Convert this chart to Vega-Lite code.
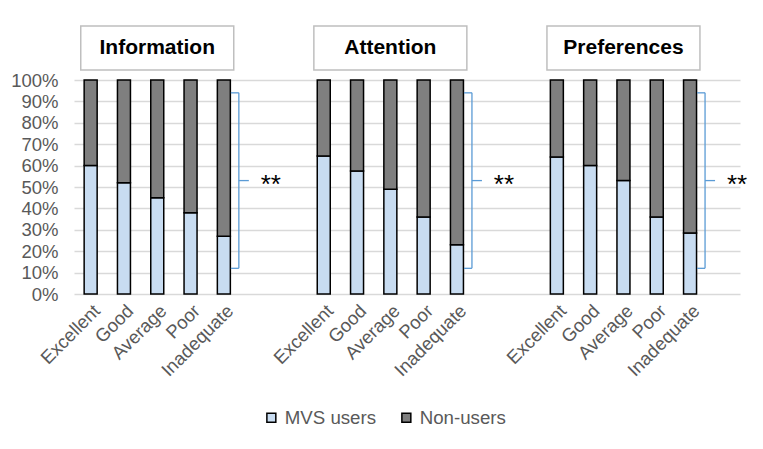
{
  "$schema": "https://vega.github.io/schema/vega-lite/v6.json",
  "autosize": "none",
  "width": 666,
  "height": 214,
  "padding": {"left": 74, "top": 80, "right": 23, "bottom": 155},
  "background": "white",
  "config": {
    "view": {"stroke": null},
    "font": "Liberation Sans",
    "axis": {"labelFont": "Liberation Sans", "labelColor": "#595959", "labelFontSize": 18.5, "labelOverlap": false, "ticks": false, "domain": false, "titleOpacity": 0},
    "axisY": {"tickCount": 10, "gridColor": "#d9d9d9", "gridWidth": 1.5, "labelPadding": 16, "labelExpr": "datum.value + '%'"},
    "axisX": {"grid": false, "labelAngle": -45, "labelPadding": 7, "labelExpr": "indexof(datum.value, '|') > 0 ? substring(datum.value, indexof(datum.value, '|') + 1) : ''"}
  },
  "datasets": {
    "shares": [
      {"group": "Information", "rating": "Excellent", "series": "MVS users", "pct": 60},
      {"group": "Information", "rating": "Excellent", "series": "Non-users", "pct": 40},
      {"group": "Information", "rating": "Good", "series": "MVS users", "pct": 52},
      {"group": "Information", "rating": "Good", "series": "Non-users", "pct": 48},
      {"group": "Information", "rating": "Average", "series": "MVS users", "pct": 45},
      {"group": "Information", "rating": "Average", "series": "Non-users", "pct": 55},
      {"group": "Information", "rating": "Poor", "series": "MVS users", "pct": 38},
      {"group": "Information", "rating": "Poor", "series": "Non-users", "pct": 62},
      {"group": "Information", "rating": "Inadequate", "series": "MVS users", "pct": 27},
      {"group": "Information", "rating": "Inadequate", "series": "Non-users", "pct": 73},
      {"group": "Attention", "rating": "Excellent", "series": "MVS users", "pct": 64.5},
      {"group": "Attention", "rating": "Excellent", "series": "Non-users", "pct": 35.5},
      {"group": "Attention", "rating": "Good", "series": "MVS users", "pct": 57.5},
      {"group": "Attention", "rating": "Good", "series": "Non-users", "pct": 42.5},
      {"group": "Attention", "rating": "Average", "series": "MVS users", "pct": 49},
      {"group": "Attention", "rating": "Average", "series": "Non-users", "pct": 51},
      {"group": "Attention", "rating": "Poor", "series": "MVS users", "pct": 36},
      {"group": "Attention", "rating": "Poor", "series": "Non-users", "pct": 64},
      {"group": "Attention", "rating": "Inadequate", "series": "MVS users", "pct": 23},
      {"group": "Attention", "rating": "Inadequate", "series": "Non-users", "pct": 77},
      {"group": "Preferences", "rating": "Excellent", "series": "MVS users", "pct": 64},
      {"group": "Preferences", "rating": "Excellent", "series": "Non-users", "pct": 36},
      {"group": "Preferences", "rating": "Good", "series": "MVS users", "pct": 60},
      {"group": "Preferences", "rating": "Good", "series": "Non-users", "pct": 40},
      {"group": "Preferences", "rating": "Average", "series": "MVS users", "pct": 53},
      {"group": "Preferences", "rating": "Average", "series": "Non-users", "pct": 47},
      {"group": "Preferences", "rating": "Poor", "series": "MVS users", "pct": 36},
      {"group": "Preferences", "rating": "Poor", "series": "Non-users", "pct": 64},
      {"group": "Preferences", "rating": "Inadequate", "series": "MVS users", "pct": 28.5},
      {"group": "Preferences", "rating": "Inadequate", "series": "Non-users", "pct": 71.5}
    ],
    "tests": [
      {"group": "Information", "rating": "Inadequate", "low": 12, "high": 94, "mid": 53, "label": "**"},
      {"group": "Attention", "rating": "Inadequate", "low": 12, "high": 94, "mid": 53, "label": "**"},
      {"group": "Preferences", "rating": "Inadequate", "low": 12, "high": 94, "mid": 53, "label": "**"}
    ],
    "panels": [
      {"group": "Information", "rating": "Average"},
      {"group": "Attention", "rating": "Average"},
      {"group": "Preferences", "rating": "Average"}
    ]
  },
  "resolve": {"scale": {"x": "shared", "y": "shared"}},
  "layer": [
    {
      "data": {"name": "shares"},
      "transform": [{"calculate": "datum.group + '|' + datum.rating", "as": "slot"}],
      "mark": {"type": "bar", "width": 13, "stroke": "#000000", "strokeWidth": 1.5},
      "encoding": {
        "x": {
          "field": "slot", "type": "nominal", "title": null,
          "scale": {
            "domain": [
              "Information|Excellent", "Information|Good", "Information|Average", "Information|Poor", "Information|Inadequate",
              "gap1", "gap2",
              "Attention|Excellent", "Attention|Good", "Attention|Average", "Attention|Poor", "Attention|Inadequate",
              "gap3", "gap4",
              "Preferences|Excellent", "Preferences|Good", "Preferences|Average", "Preferences|Poor", "Preferences|Inadequate",
              "gap5"
            ],
            "paddingInner": 0.58, "paddingOuter": 0.29
          }
        },
        "y": {
          "field": "pct", "type": "quantitative", "stack": "zero", "title": null,
          "scale": {"domain": [0, 100], "nice": false}
        },
        "color": {
          "field": "series", "type": "nominal",
          "scale": {"domain": ["MVS users", "Non-users"], "range": ["#c8dcf1", "#7f7f7f"]},
          "legend": {
            "title": null, "orient": "none", "direction": "horizontal",
            "legendX": 188, "legendY": 328,
            "symbolType": "square", "symbolSize": 80, "symbolStrokeColor": "#000000", "symbolStrokeWidth": 1.5,
            "labelFontSize": 18.7, "labelColor": "#595959", "labelFont": "Liberation Sans",
            "labelOffset": 4, "columnPadding": 20
          }
        },
        "order": {"field": "series", "sort": "ascending"}
      }
    },
    {
      "data": {"name": "panels"},
      "transform": [{"calculate": "datum.group + '|' + datum.rating", "as": "slot"}],
      "mark": {"type": "bar", "width": 153, "fill": "#ffffff", "stroke": "#bfbfbf", "strokeWidth": 1.5},
      "encoding": {
        "x": {"field": "slot", "type": "nominal", "title": null},
        "y": {"datum": 104.7, "title": null},
        "y2": {"datum": 125.2}
      }
    },
    {
      "data": {"name": "panels"},
      "transform": [{"calculate": "datum.group + '|' + datum.rating", "as": "slot"}],
      "mark": {"type": "text", "fontSize": 21, "fontWeight": "bold", "color": "#000000", "font": "Liberation Sans", "baseline": "middle", "align": "center"},
      "encoding": {
        "x": {"field": "slot", "type": "nominal", "title": null},
        "y": {"datum": 115, "title": null},
        "text": {"field": "group"}
      }
    },
    {
      "data": {"name": "tests"},
      "transform": [{"calculate": "datum.group + '|' + datum.rating", "as": "slot"}],
      "mark": {"type": "rule", "color": "#5b9bd5", "strokeWidth": 1.3, "xOffset": 15},
      "encoding": {
        "x": {"field": "slot", "type": "nominal", "title": null},
        "y": {"field": "low", "type": "quantitative", "title": null},
        "y2": {"field": "high"}
      }
    },
    {
      "data": {"name": "tests"},
      "transform": [{"calculate": "datum.group + '|' + datum.rating", "as": "slot"}],
      "mark": {"type": "rule", "color": "#5b9bd5", "strokeWidth": 1.3, "xOffset": 7, "x2Offset": 15},
      "encoding": {
        "x": {"field": "slot", "type": "nominal", "title": null},
        "x2": {"field": "slot"},
        "y": {"field": "high", "type": "quantitative", "title": null}
      }
    },
    {
      "data": {"name": "tests"},
      "transform": [{"calculate": "datum.group + '|' + datum.rating", "as": "slot"}],
      "mark": {"type": "rule", "color": "#5b9bd5", "strokeWidth": 1.3, "xOffset": 7, "x2Offset": 15},
      "encoding": {
        "x": {"field": "slot", "type": "nominal", "title": null},
        "x2": {"field": "slot"},
        "y": {"field": "low", "type": "quantitative", "title": null}
      }
    },
    {
      "data": {"name": "tests"},
      "transform": [{"calculate": "datum.group + '|' + datum.rating", "as": "slot"}],
      "mark": {"type": "rule", "color": "#5b9bd5", "strokeWidth": 1.3, "xOffset": 15, "x2Offset": 25},
      "encoding": {
        "x": {"field": "slot", "type": "nominal", "title": null},
        "x2": {"field": "slot"},
        "y": {"field": "mid", "type": "quantitative", "title": null}
      }
    },
    {
      "data": {"name": "tests"},
      "transform": [{"calculate": "datum.group + '|' + datum.rating", "as": "slot"}],
      "mark": {"type": "text", "fontSize": 26, "color": "#000000", "font": "Liberation Sans", "align": "center", "baseline": "alphabetic", "dx": 47, "dy": 12},
      "encoding": {
        "x": {"field": "slot", "type": "nominal", "title": null},
        "y": {"field": "mid", "type": "quantitative", "title": null},
        "text": {"field": "label"}
      }
    }
  ]
}
